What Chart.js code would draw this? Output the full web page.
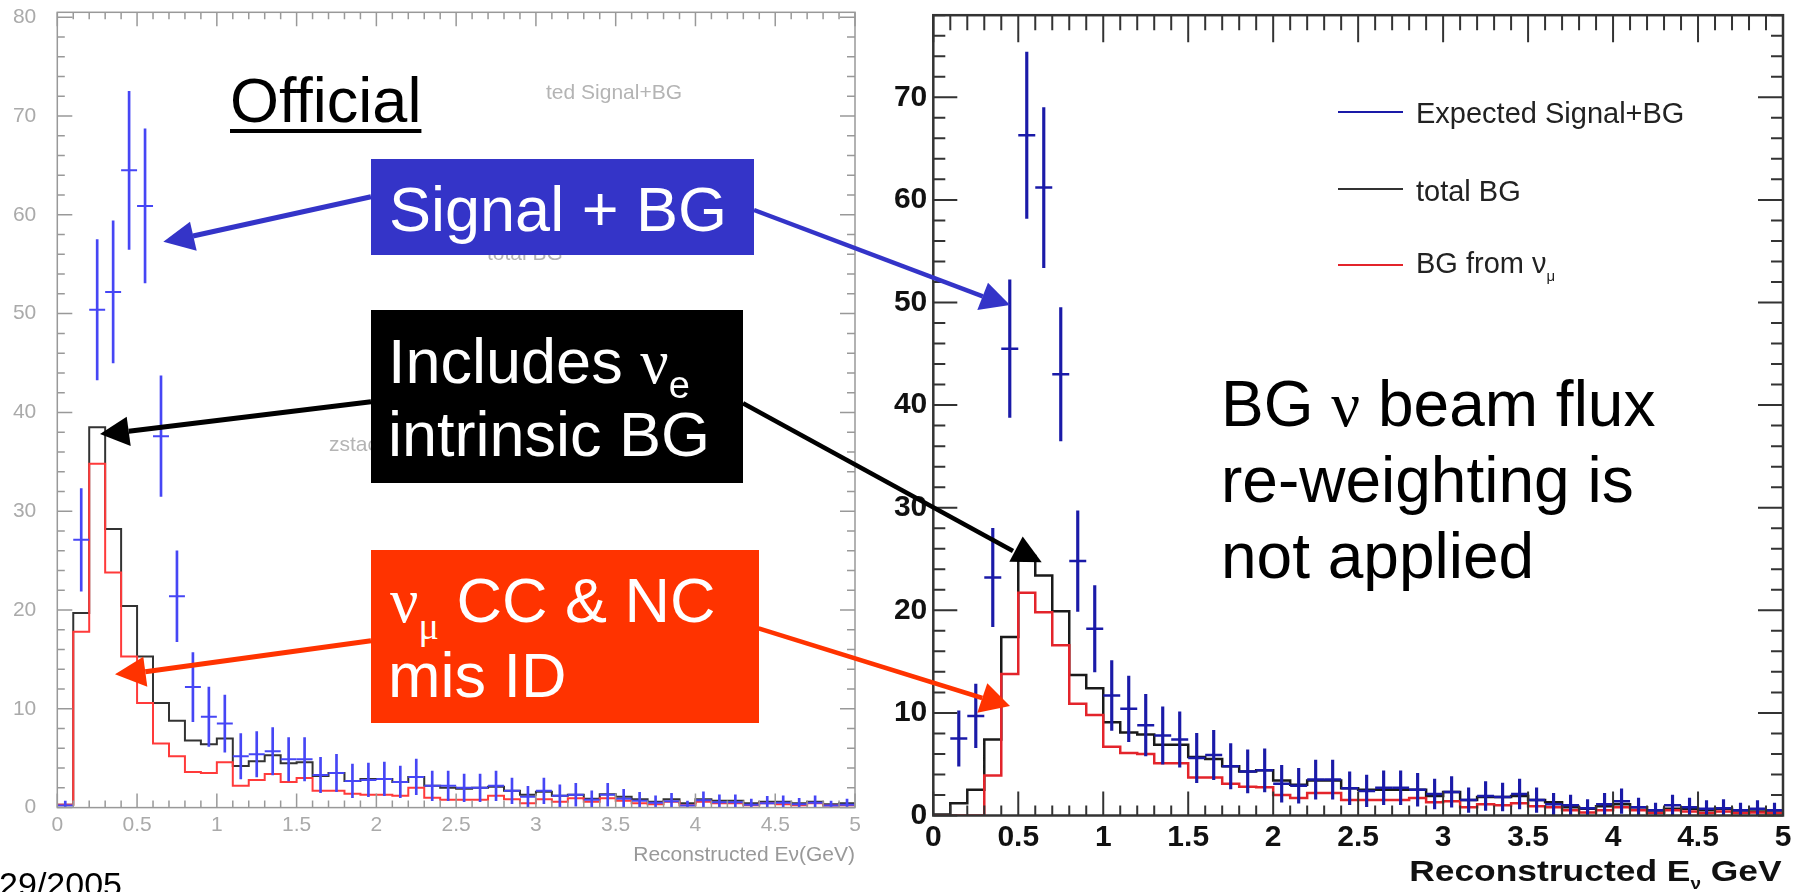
<!DOCTYPE html>
<html>
<head>
<meta charset="utf-8">
<script src="https://cdn.jsdelivr.net/npm/chart.js@4.4.1/dist/chart.umd.min.js"></script>
<style>
  html, body { margin: 0; padding: 0; background: #fff; }
  body { width: 1805px; height: 892px; position: relative; overflow: hidden; font-family: 'Liberation Sans', Arial, sans-serif; }
  canvas { position: absolute; top: 0; }
  #cL { left: 0; }
  #cR { left: 880px; }
  #arrows { left: 0; z-index: 4; pointer-events: none; }
  .t { position: absolute; line-height: 1; white-space: nowrap; z-index: 4; }
  .faint { position: absolute; line-height: 1; white-space: nowrap; color: #b4b4b4; font-size: 21px; z-index: 1; }
  .box { position: absolute; z-index: 3; }
  .gr { font-family: 'Liberation Serif', 'Times New Roman', serif; }
  .wh { color: #fff; font-size: 63px; }
  .key { position: absolute; height: 2px; width: 65px; left: 1338px; z-index: 2; }
  .keyt { position: absolute; line-height: 1; font-size: 29px; color: #222; left: 1416px; z-index: 2; white-space: nowrap; }
</style>
</head>
<body>
<canvas id="cL" width="880" height="892"></canvas>
<canvas id="cR" width="925" height="892"></canvas>

<!-- left-over legend text of the official plot -->
<div class="faint" style="left:546px; top:81px;">ted Signal+BG</div>
<div class="faint" style="left:329px; top:433px;">zstack BG</div>
<div class="faint" style="left:487px; top:242px;">total BG</div>

<!-- right plot legend -->
<div class="key" style="top:111px; background:#1a1aa8;"></div>
<div class="keyt" style="top:99px;">Expected Signal+BG</div>
<div class="key" style="top:188px; background:#333;"></div>
<div class="keyt" style="top:177px;">total BG</div>
<div class="key" style="top:264px; background:#e3242b;"></div>
<div class="keyt" style="top:249px;">BG from ν<span style="font-size:15px; position:relative; top:8px;">μ</span></div>

<!-- labels -->
<div class="t" style="left:230px; top:69px; font-size:63px; color:#000; text-decoration:underline; text-decoration-thickness:4px; text-underline-offset:7px;">Official</div>

<div class="box" style="left:371px; top:159px; width:383px; height:96px; background:#3434c8;"></div>
<div class="t wh" style="left:389px; top:178px;">Signal + BG</div>

<div class="box" style="left:371px; top:310px; width:372px; height:173px; background:#000;"></div>
<div class="t wh" style="left:388px; top:330px;">Includes <span class="gr">ν</span><span style="font-size:38px; position:relative; top:15px;">e</span></div>
<div class="t wh" style="left:388px; top:403px;">intrinsic BG</div>

<div class="box" style="left:371px; top:550px; width:388px; height:173px; background:#ff3300;"></div>
<div class="t wh" style="left:390px; top:569px;"><span class="gr">ν</span><span class="gr" style="font-size:38px; position:relative; top:17px;">μ</span> CC &amp; NC</div>
<div class="t wh" style="left:388px; top:644px;">mis ID</div>

<div class="t" style="left:1221px; top:372px; font-size:64px; color:#000;">BG <span class="gr">ν</span> beam flux</div>
<div class="t" style="left:1221px; top:448px; font-size:64px; color:#000;">re-weighting is</div>
<div class="t" style="left:1221px; top:524px; font-size:64px; color:#000;">not applied</div>

<div class="t" style="right:23px; top:856px; font-size:30px; font-weight:bold; color:#111; transform:scaleX(1.18); transform-origin:right center;">Reconstructed E<span style="font-size:16px; position:relative; top:8px;">ν</span> GeV</div>

<div class="t" style="right:1683px; top:867px; font-size:34px; color:#000;">29/2005</div>

<canvas id="arrows" width="1805" height="892"></canvas>

<script>
// bin edges in GeV, shared by both histograms
const binEdges = [0.0, 0.1, 0.2, 0.3, 0.4, 0.5, 0.6, 0.7, 0.8, 0.9,
  1.0, 1.1, 1.2, 1.3, 1.4, 1.5, 1.6, 1.7, 1.8, 1.9,
  2.0, 2.1, 2.2, 2.3, 2.4, 2.5, 2.6, 2.7, 2.8, 2.9,
  3.0, 3.1, 3.2, 3.3, 3.4, 3.5, 3.6, 3.7, 3.8, 3.9,
  4.0, 4.1, 4.2, 4.3, 4.4, 4.5, 4.6, 4.7, 4.8, 4.9, 5.0];

// tick labels
const xTickVals = [0, 0.5, 1, 1.5, 2, 2.5, 3, 3.5, 4, 4.5, 5];
const offYTicks = [0, 10, 20, 30, 40, 50, 60, 70, 80];
const newYTicks = [0, 10, 20, 30, 40, 50, 60, 70];

// left plot ("Official")
const offSigBG = [0.2, 27.1, 50.4, 52.2, 64.5, 60.9, 37.6, 21.4, 12.2, 9.2,
  8.5, 5.2, 5.4, 5.7, 4.9, 4.9, 3.3, 3.5, 2.7, 2.8,
  2.9, 2.6, 3.1, 2.2, 2.2, 2.0, 2.0, 2.2, 1.7, 1.1,
  1.7, 1.2, 1.3, 0.8, 1.3, 0.9, 0.7, 0.5, 0.65, 0.2,
  0.75, 0.55, 0.55, 0.3, 0.45, 0.5, 0.35, 0.5, 0.2, 0.3];
const offSigErr = [0.45, 5.2, 7.1, 7.2, 8.0, 7.8, 6.1, 4.6, 3.5, 3.0,
  2.9, 2.3, 2.3, 2.4, 2.2, 2.2, 1.8, 1.9, 1.7, 1.7,
  1.7, 1.6, 1.8, 1.5, 1.5, 1.4, 1.4, 1.5, 1.3, 1.05,
  1.3, 1.1, 1.15, 0.9, 1.15, 0.95, 0.85, 0.7, 0.8, 0.45,
  0.85, 0.75, 0.75, 0.55, 0.7, 0.7, 0.6, 0.7, 0.45, 0.55];
const offTotBG = [0.3, 19.7, 38.5, 28.2, 20.4, 15.3, 10.6, 8.8, 6.8, 6.4,
  7.0, 4.2, 4.7, 5.3, 4.5, 4.6, 3.2, 3.5, 2.7, 2.9,
  2.9, 2.6, 3.1, 2.2, 2.0, 1.9, 2.0, 2.1, 1.7, 1.3,
  1.6, 1.2, 1.3, 0.9, 1.35, 1.1, 0.85, 0.6, 0.85, 0.45,
  0.85, 0.7, 0.7, 0.45, 0.6, 0.6, 0.45, 0.6, 0.35, 0.45];
const offNumuBG = [0.3, 17.8, 34.8, 23.8, 15.3, 10.6, 6.5, 5.2, 3.6, 3.5,
  4.6, 2.2, 2.8, 3.4, 2.6, 3.0, 1.7, 1.7, 1.4, 1.3,
  1.3, 1.2, 2.0, 1.0, 0.8, 0.8, 0.8, 1.2, 0.85, 0.45,
  0.85, 0.6, 0.95, 0.6, 0.95, 0.7, 0.45, 0.35, 0.6, 0.25,
  0.6, 0.45, 0.45, 0.25, 0.45, 0.35, 0.25, 0.45, 0.2, 0.25];

// right plot (no flux re-weighting)
const newSigBG = [null, 7.5, 9.7, 23.2, 45.5, 66.3, 61.2, 43.0, 24.8, 18.2,
  11.7, 10.4, 8.8, 7.8, 7.4, 5.6, 5.9, 4.8, 4.3, 4.4,
  3.1, 2.9, 3.5, 3.5, 2.65, 2.4, 2.7, 2.7, 2.5, 2.1,
  2.3, 1.5, 1.9, 1.8, 2.1, 1.5, 1.1, 1.0, 0.7, 1.1,
  1.4, 0.8, 0.5, 1.0, 0.8, 0.65, 0.7, 0.5, 0.65, 0.5];
const newSigErr = [0, 2.7, 3.1, 4.8, 6.7, 8.1, 7.8, 6.5, 4.9, 4.2,
  3.4, 3.2, 3.0, 2.8, 2.7, 2.4, 2.4, 2.2, 2.1, 2.1,
  1.8, 1.7, 1.9, 1.9, 1.6, 1.55, 1.65, 1.65, 1.6, 1.45,
  1.5, 1.2, 1.4, 1.35, 1.45, 1.2, 1.05, 1.0, 0.85, 1.05,
  1.2, 0.9, 0.7, 1.0, 0.9, 0.8, 0.85, 0.7, 0.8, 0.7];
const newTotBG = [0.1, 1.2, 2.5, 7.4, 17.4, 25.3, 23.4, 19.9, 13.7, 12.4,
  9.1, 8.1, 7.9, 6.9, 6.9, 5.7, 5.5, 4.8, 4.3, 4.4,
  3.4, 3.0, 3.4, 3.4, 2.65, 2.5, 2.5, 2.5, 2.5, 1.9,
  2.3, 1.5, 1.8, 1.8, 1.9, 1.5, 1.3, 0.8, 0.65, 0.9,
  1.1, 0.8, 0.3, 0.65, 0.65, 0.5, 0.65, 0.3, 0.4, 0.3];
const newNumuBG = [0, 0, 0, 3.9, 13.8, 21.7, 19.8, 16.6, 10.9, 9.8,
  6.7, 6.1, 6.0, 5.1, 5.1, 3.7, 3.7, 3.1, 2.8, 2.75,
  2.0, 1.7, 2.2, 2.2, 1.5, 1.5, 1.5, 1.5, 1.7, 1.3,
  1.4, 0.8, 1.1, 1.0, 1.2, 0.9, 0.8, 0.5, 0.3, 0.5,
  0.8, 0.5, 0.25, 0.5, 0.4, 0.25, 0.4, 0.25, 0.3, 0.25];

// histogram outline: value held from each low edge to the next
function steps(vals) {
  const pts = vals.map((v, i) => ({ x: binEdges[i], y: v }));
  pts.push({ x: binEdges[vals.length], y: vals[vals.length - 1] });
  return pts;
}
function mid(i) { return (binEdges[i] + binEdges[i + 1]) / 2; }
function errBars(vals, errs) {
  const out = [];
  vals.forEach((v, i) => { if (v != null) out.push({ x: mid(i), y: [Math.max(0, v - errs[i]), v + errs[i]] }); });
  return out;
}
function centres(vals) {
  const out = [];
  vals.forEach((v, i) => { if (v != null) out.push({ x: mid(i), y: v }); });
  return out;
}
const halfBin = c => { const x = c.chart.scales.x; return (x.getPixelForValue(binEdges[1]) - x.getPixelForValue(binEdges[0])) / 2; };

// ROOT style frame: ticks inside on all four sides
const rootFrame = {
  id: 'rootFrame',
  afterDatasetsDraw(chart, args, o) {
    const { ctx, chartArea: a, scales: { x, y } } = chart;
    ctx.save();
    ctx.strokeStyle = o.color;
    ctx.lineWidth = o.tickWidth;
    ctx.beginPath();
    for (let k = 0; k <= 50; k++) {
      const px = x.getPixelForValue(k / 10), major = k % 5 === 0;
      ctx.moveTo(px, a.bottom); ctx.lineTo(px, a.bottom - (major ? o.xB[0] : o.xB[1]));
      ctx.moveTo(px, a.top); ctx.lineTo(px, a.top + (major ? o.xT[0] : o.xT[1]));
    }
    for (let v = 0; v <= y.max; v += 2) {
      const py = y.getPixelForValue(v), major = v % 10 === 0;
      ctx.moveTo(a.left, py); ctx.lineTo(a.left + (major ? o.yL[0] : o.yL[1]), py);
      ctx.moveTo(a.right, py); ctx.lineTo(a.right - (major ? o.yR[0] : o.yR[1]), py);
    }
    ctx.stroke();
    ctx.lineWidth = o.frameWidth;
    ctx.strokeRect(a.left, a.top, a.width, a.height);
    ctx.restore();
  }
};

function panel(id, p) {
  return new Chart(document.getElementById(id), {
    data: {
      datasets: [
        { type: 'scatter', label: p.sigLabel, data: centres(p.sig), showLine: false, pointStyle: 'line',
          pointRadius: halfBin, pointBorderColor: p.blue, pointBorderWidth: p.lw, pointBackgroundColor: p.blue },
        { type: 'bar', label: p.sigLabel + ' err', data: errBars(p.sig, p.err), backgroundColor: p.blue,
          barThickness: p.lw, borderWidth: 0, grouped: false },
        { type: 'line', label: 'BG from numu', data: steps(p.numu), stepped: true, borderColor: p.red,
          borderWidth: p.lw, pointRadius: 0, fill: false },
        { type: 'line', label: 'total BG', data: steps(p.tot), stepped: true, borderColor: p.black,
          borderWidth: p.lw, pointRadius: 0, fill: false }
      ]
    },
    options: {
      responsive: false, animation: false, events: [],
      layout: { padding: { left: 0, top: p.top, right: p.right, bottom: 0 } },
      plugins: { legend: { display: false }, tooltip: { enabled: false }, rootFrame: p.frame },
      scales: {
        x: {
          type: 'linear', min: 0, max: 5, offset: false,
          grid: { display: false, drawTicks: false }, border: { display: false },
          afterBuildTicks: s => { s.ticks = xTickVals.map(v => ({ value: v })); },
          afterFit: s => { s.height = p.xH; s.paddingLeft = 0; s.paddingRight = 0; },
          ticks: { color: p.tickColor, font: p.tickFont, padding: p.xPad, maxRotation: 0, autoSkip: false, callback: v => String(v) },
          title: p.xTitle
        },
        y: {
          type: 'linear', min: 0, max: p.yMax,
          grid: { display: false, drawTicks: false }, border: { display: false },
          afterBuildTicks: s => { s.ticks = p.yTicks.map(v => ({ value: v })); },
          afterFit: s => { s.width = p.yW; s.paddingTop = 0; s.paddingBottom = 0; },
          ticks: { color: p.tickColor, font: p.tickFont, padding: p.yPad, autoSkip: false, callback: v => String(v) }
        }
      }
    },
    plugins: [rootFrame]
  });
}

panel('cL', {
  sig: offSigBG, err: offSigErr, tot: offTotBG, numu: offNumuBG, sigLabel: 'Expected Signal+BG',
  blue: '#4646f5', red: '#ff3a3a', black: '#333', lw: 2,
  top: 12.3, right: 25, xH: 84.4, yW: 57.3, yMax: 80.5, yTicks: offYTicks,
  tickColor: '#aaa', tickFont: { family: 'Liberation Sans', size: 21 }, xPad: 5, yPad: 21,
  xTitle: { display: true, text: 'Reconstructed Eν(GeV)', align: 'end', color: '#999',
    font: { family: 'Liberation Sans', size: 21 }, padding: { top: 0, bottom: 24 } },
  frame: { color: '#999', tickWidth: 1.5, frameWidth: 1.5, xB: [14, 7], xT: [14, 7], yL: [15, 7.5], yR: [15, 8] }
});

panel('cR', {
  sig: newSigBG, err: newSigErr, tot: newTotBG, numu: newNumuBG, sigLabel: 'Expected Signal+BG',
  blue: '#1a1aa8', red: '#e3242b', black: '#1a1a1a', lw: 2.5,
  top: 15.2, right: 22, xH: 76.5, yW: 53.3, yMax: 78, yTicks: newYTicks,
  tickColor: '#111', tickFont: { family: 'Liberation Sans', size: 30, weight: 'bold' }, xPad: 4, yPad: 6,
  xTitle: { display: false },
  frame: { color: '#333', tickWidth: 2, frameWidth: 2.5, xB: [24, 10], xT: [27, 15], yL: [24, 12], yR: [25, 12] }
});

// call-out arrows joining the labels to both plots
const arrows = [
  { c: '#3434c8', w: 5,   from: [371, 196.7], to: [193, 236],     head: [[163.3, 241.7], [190, 221.7], [196.7, 250.7]] },
  { c: '#3434c8', w: 4.5, from: [754, 210],   to: [982.8, 296.3], head: [[1010, 305], [988, 282.7], [977.3, 310]] },
  { c: '#000',    w: 5,   from: [371, 401.7], to: [128.7, 431.3], head: [[100, 434], [126.7, 416.7], [130.7, 446]] },
  { c: '#000',    w: 4.5, from: [743, 403.3], to: [1013, 551],    head: [[1022.7, 536.5], [1009.3, 561.7], [1041.7, 562.3]] },
  { c: '#ff3300', w: 5,   from: [371, 640.7], to: [145.3, 671.7], head: [[115, 674.3], [143.3, 656.7], [147.3, 686.7]] },
  { c: '#ff3300', w: 4.5, from: [758.6, 628.3], to: [982.3, 698], head: [[1010, 706], [987.3, 683.3], [977.3, 712.7]] }
];
const actx = document.getElementById('arrows').getContext('2d');
arrows.forEach(a => {
  actx.strokeStyle = a.c; actx.fillStyle = a.c; actx.lineWidth = a.w;
  actx.beginPath(); actx.moveTo(a.from[0], a.from[1]); actx.lineTo(a.to[0], a.to[1]); actx.stroke();
  actx.beginPath(); actx.moveTo(a.head[0][0], a.head[0][1]);
  actx.lineTo(a.head[1][0], a.head[1][1]); actx.lineTo(a.head[2][0], a.head[2][1]);
  actx.closePath(); actx.fill();
});
</script>
</body>
</html>
